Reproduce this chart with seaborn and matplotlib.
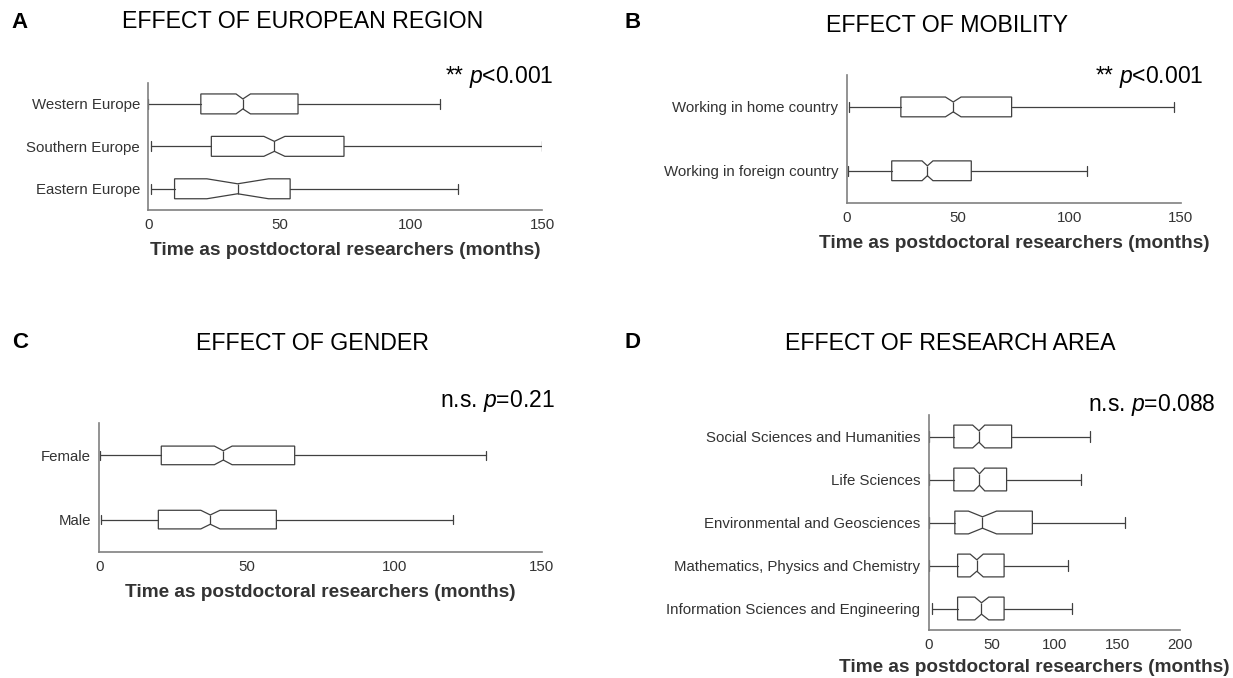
import matplotlib
matplotlib.use("Agg")
import matplotlib.pyplot as plt
import seaborn as sns

# ---------------- data ----------------
# Panel A: European region
region_labels = ["Western Europe", "Southern Europe", "Eastern Europe"]
region_min = [0, 1, 1]
region_q1 = [20, 24, 10]
region_med = [36, 48, 34]
region_q3 = [57, 74.5, 54]
region_max = [111, 150, 118]
region_ci_lo = [33.4, 44, 22.3]
region_ci_hi = [38.9, 52, 45.8]

# Panel B: mobility
mobility_labels = ["Working in home country", "Working in foreign country"]
mobility_min = [0.9, 0.5]
mobility_q1 = [24.3, 20.2]
mobility_med = [47.8, 36.2]
mobility_q3 = [74, 55.9]
mobility_max = [146.8, 108]
mobility_ci_lo = [44.3, 33.8]
mobility_ci_hi = [51.3, 38.7]

# Panel C: gender
gender_labels = ["Female", "Male"]
gender_min = [0.3, 0.6]
gender_q1 = [21, 20]
gender_med = [42, 37.6]
gender_q3 = [66.2, 60]
gender_max = [131, 120]
gender_ci_lo = [39, 34.4]
gender_ci_hi = [45, 40.9]

# Panel D: research area
area_labels = ["Social Sciences and Humanities", "Life Sciences",
               "Environmental and Geosciences",
               "Mathematics, Physics and Chemistry",
               "Information Sciences and Engineering"]
area_min = [0.6, 0.6, 0.6, 0.6, 3]
area_q1 = [20, 20, 20.8, 23, 23]
area_med = [40, 40.4, 42.8, 38.3, 42]
area_q3 = [66, 62, 82.5, 60, 60]
area_max = [128, 121, 156, 111, 114]
area_ci_lo = [35, 36, 31.6, 33, 36.7]
area_ci_hi = [44.6, 44.6, 54, 43.4, 47.8]

titles = ["EFFECT OF EUROPEAN REGION", "EFFECT OF MOBILITY",
          "EFFECT OF GENDER", "EFFECT OF RESEARCH AREA"]
letters = ["A", "B", "C", "D"]
pvals = ["** $\\it{p}$<0.001", "** $\\it{p}$<0.001",
         "n.s. $\\it{p}$=0.21", "n.s. $\\it{p}$=0.088"]
xlabel = "Time as postdoctoral researchers (months)"
xticks_150 = [0, 50, 100, 150]
xticks_200 = [0, 50, 100, 150, 200]

# ---------------- style ----------------
sns.set_theme(style="white")
plt.rcParams['font.family'] = ['Liberation Sans', 'DejaVu Sans']
plt.rcParams['mathtext.fontset'] = 'custom'
plt.rcParams['mathtext.it'] = 'Liberation Sans:italic'
plt.rcParams['mathtext.rm'] = 'Liberation Sans'

W, H = 1233, 678
fig = plt.figure(figsize=(W / 100, H / 100), dpi=100)
fig.patch.set_facecolor("white")

LINE = "#404040"
SPINE = "#808080"
TXT = "#333333"


def px_axes(x0, x1, ytop, ybot):
    return fig.add_axes([x0 / W, 1 - ybot / H, (x1 - x0) / W, (ybot - ytop) / H])


def draw_panel(ax, labels, mins, q1s, meds, q3s, maxs, clo, chi, width, xmax,
               xticks, label_in_axis=True):
    stats = []
    for i, lab in enumerate(labels):
        stats.append(dict(med=meds[i], q1=q1s[i], q3=q3s[i], whislo=mins[i],
                          whishi=maxs[i], cilo=clo[i], cihi=chi[i],
                          fliers=[], label=lab))
    n = len(labels)
    ax.bxp(stats, positions=list(range(n)), widths=width,
           orientation="horizontal", shownotches=True, showfliers=False,
           patch_artist=True, manage_ticks=False,
           boxprops=dict(facecolor="white", edgecolor=LINE, linewidth=0.9),
           whiskerprops=dict(color=LINE, linewidth=0.9),
           capprops=dict(color=LINE, linewidth=0.9),
           medianprops=dict(color=LINE, linewidth=0.9))
    ax.set_ylim(n - 0.5, -0.5)
    ax.set_xlim(0, xmax)
    ax.set_yticks(list(range(n)))
    ax.set_yticklabels(labels, fontsize=10.8, color=TXT)
    ax.set_xticks(xticks)
    ax.set_xticklabels([str(t) for t in xticks], fontsize=10.8, color=TXT)
    ax.tick_params(axis="x", direction="in", length=4, width=1, color=SPINE, pad=6)
    ax.tick_params(axis="y", length=0, pad=6)
    sns.despine(ax=ax)
    for s in ("left", "bottom"):
        ax.spines[s].set_color(SPINE)
        ax.spines[s].set_linewidth(1.2)
    ax.set_facecolor("white")
    if label_in_axis:
        ax.set_xlabel(xlabel, fontsize=13.7, fontweight="bold", color=TXT, labelpad=7)


axA = px_axes(148.3, 542.3, 82.7, 210)
draw_panel(axA, region_labels, region_min, region_q1, region_med, region_q3,
           region_max, region_ci_lo, region_ci_hi, 0.47, 150, xticks_150)
axB = px_axes(846.7, 1181, 75, 202.7)
draw_panel(axB, mobility_labels, mobility_min, mobility_q1, mobility_med,
           mobility_q3, mobility_max, mobility_ci_lo, mobility_ci_hi, 0.31,
           150, xticks_150)
axC = px_axes(99.3, 542, 423.3, 551.7)
draw_panel(axC, gender_labels, gender_min, gender_q1, gender_med, gender_q3,
           gender_max, gender_ci_lo, gender_ci_hi, 0.29, 150, xticks_150)
axD = px_axes(928.7, 1180, 415, 630)
draw_panel(axD, area_labels, area_min, area_q1, area_med, area_q3, area_max,
           area_ci_lo, area_ci_hi, 0.53, 200, xticks_200, label_in_axis=False)
# D's axis label overflows the figure edge in the reference; keep it fully inside
fig.text(1230 / W, 1 - 668 / H, xlabel, fontsize=13.7, fontweight="bold",
         color=TXT, ha="right", va="center")

# letters, titles, p-values (pixel positions)
letter_pos = [(20, 22), (633, 22), (20, 343), (633, 343)]
title_pos = [(303, 22), (947, 25), (312, 343), (950, 343)]
p_pos = [(553, 77), (1203, 77), (555, 401), (1216, 405)]
for i in range(4):
    fig.text(letter_pos[i][0] / W, 1 - letter_pos[i][1] / H, letters[i],
             fontsize=16, fontweight="bold", ha="center", va="center", color="black")
    fig.text(title_pos[i][0] / W, 1 - title_pos[i][1] / H, titles[i],
             fontsize=16.7, ha="center", va="center", color="black")
    fig.text(p_pos[i][0] / W, 1 - p_pos[i][1] / H, pvals[i],
             fontsize=16.5, ha="right", va="center", color="black")

fig.savefig("out.png", dpi=100, facecolor="white")
